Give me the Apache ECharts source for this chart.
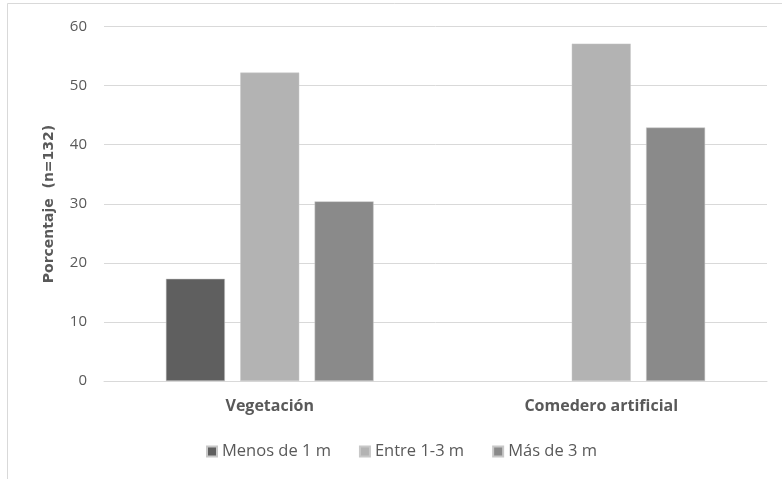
<!DOCTYPE html>
<html>
<head>
<meta charset="utf-8">
<script src="https://cdn.jsdelivr.net/npm/echarts@6/dist/echarts.min.js"></script>
<style>
  html, body { margin: 0; padding: 0; background: #fff; }
  #chart { width: 782px; height: 479px; }
</style>
</head>
<body>
<div id="chart"></div>
<script>
// Perch height by site type, percentage of observations (n=132)
const categories = ['Vegetación', 'Comedero artificial'];
const seriesNames = ['Menos de 1 m', 'Entre 1-3 m', 'Más de 3 m'];
const menosDe1m = [17.3, null];
const entre1y3m = [52.2, 57.1];
const masDe3m = [30.4, 42.9];
const yTicks = [0, 10, 20, 30, 40, 50, 60];

const colors = ['#5f5f5f', '#b3b3b3', '#8a8a8a'];
const values = [menosDe1m, entre1y3m, masDe3m];
const textColor = '#595959';
const fontFamily = '"Open Sans", "Liberation Sans", sans-serif';

const chart = echarts.init(document.getElementById('chart'), null, { renderer: 'canvas' });

chart.setOption({
  backgroundColor: '#ffffff',
  animation: false,
  grid: { left: 104, right: 15, top: 26.5, bottom: 98, containLabel: false },
  xAxis: {
    type: 'category',
    data: categories,
    axisLine: { show: true, lineStyle: { color: '#d9d9d9', width: 1 } },
    axisTick: { show: false },
    axisLabel: {
      margin: 17,
      color: textColor,
      fontWeight: 'bold',
      fontSize: 16,
      fontFamily: fontFamily
    }
  },
  yAxis: {
    type: 'value',
    min: yTicks[0],
    max: yTicks[yTicks.length - 1],
    interval: yTicks[1] - yTicks[0],
    axisLine: { show: false },
    axisTick: { show: false },
    splitLine: { lineStyle: { color: '#d9d9d9', width: 1 } },
    axisLabel: {
      margin: 17,
      color: textColor,
      fontSize: 15,
      fontFamily: fontFamily
    }
  },
  legend: {
    data: seriesNames,
    left: 206,
    top: 443,
    icon: 'rect',
    itemWidth: 10,
    itemHeight: 10,
    itemGap: 28,
    padding: 0,
    textStyle: { color: textColor, fontSize: 16.5, fontFamily: fontFamily }
  },
  graphic: [
    {
      type: 'text',
      x: 49,
      y: 204,
      rotation: Math.PI / 2,
      style: {
        text: 'Porcentaje  (n=132)',
        fill: textColor,
        font: 'bold 14px "DejaVu Sans", sans-serif',
        align: 'center',
        verticalAlign: 'middle'
      }
    },
    {
      type: 'line',
      shape: { x1: 7.5, y1: 3.5, x2: 782, y2: 3.5 },
      style: { stroke: '#d9d9d9', lineWidth: 1 }
    },
    {
      type: 'line',
      shape: { x1: 7.5, y1: 3.5, x2: 7.5, y2: 479 },
      style: { stroke: '#d9d9d9', lineWidth: 1 }
    }
  ],
  series: seriesNames.map((name, i) => ({
    name: name,
    type: 'bar',
    data: values[i],
    barWidth: 59,
    barGap: '26%',
    itemStyle: { color: colors[i], borderColor: '#c8c8c8', borderWidth: 0.5 }
  }))
});
</script>
</body>
</html>
